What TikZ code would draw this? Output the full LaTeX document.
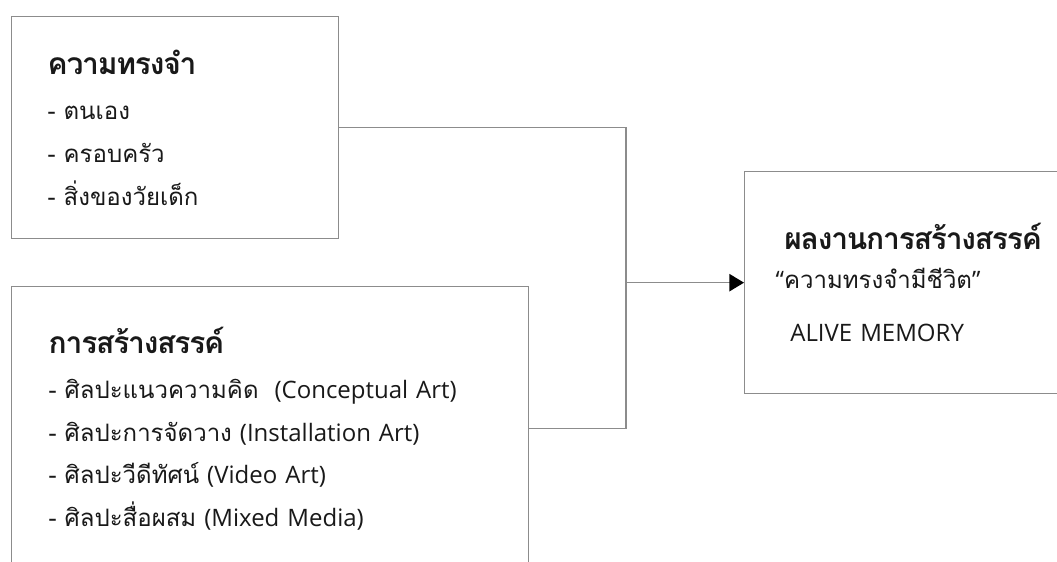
\documentclass[tikz,border=0pt]{standalone}
\usepackage{fontspec}
\setmainfont{Loma}[Script=Thai]
\newfontfamily\latinfont{Open Sans}
\newfontfamily\headfamily{Loma}[Script=Thai, LetterSpace=-4]
\usetikzlibrary{arrows.meta}

\newcommand{\headfont}{\headfamily\fontsize{22.5}{34}\selectfont\bfseries}

\begin{document}
\begin{tikzpicture}[x=0.75pt, y=-0.75pt,
    block_left/.style ={rectangle, draw=black!45, line width=1pt, fill=white,
      align=left, anchor=north west, inner ysep=0pt, text=black!90,
      font=\fontsize{18}{32}\selectfont},
    block_memory/.style ={block_left, inner xsep=27pt, text width=191pt,
      minimum height=166.5pt},
    block_creation/.style ={block_left, inner xsep=27.75pt, text width=332pt,
      minimum height=213pt},
    block_result/.style ={block_left, inner xsep=23.25pt, text width=210pt,
      minimum height=166.5pt},
    line/.style ={draw=black!45, line width=1pt},
    arrowline/.style ={line, -{Triangle[length=11pt, width=13pt, color=black]}}]

    \useasboundingbox (0,0) rectangle (1057,561);

    % Place nodes
    \node [block_memory] (memory) at (11,16) {%
      {\headfont ความทรงจำ}\\[2pt]
      - ตนเอง\\
      - ครอบครัว\\
      - สิ่งของวัยเด็ก};
    \node [block_creation] (creation) at (11,286) {%
      {\headfont การสร้างสรรค์}\\[2pt]
      - ศิลปะแนวความคิด \ {\latinfont (Conceptual Art)}\\
      - ศิลปะการจัดวาง {\latinfont (Installation Art)}\\
      - ศิลปะวีดีทัศน์ {\latinfont (Video Art)}\\
      - ศิลปะสื่อผสม {\latinfont (Mixed Media)}};
    \node [block_result] (result) at (744,171) {%
      \hspace*{6.5pt}{\headfont ผลงานการสร้างสรรค์}\\[-3pt]
      {\latinfont “}ความทรงจำมีชีวิต{\latinfont ”}\\[8pt]
      \hspace*{11pt}{\latinfont ALIVE MEMORY}};

    \coordinate (trunk) at (626,0);

    % Drawing paths
    \path [line] (memory.east) -| (trunk |- creation.east) -- (creation.east);
    \path [arrowline] (trunk |- result.west) -- (result.west);

  \end{tikzpicture}
\end{document}
